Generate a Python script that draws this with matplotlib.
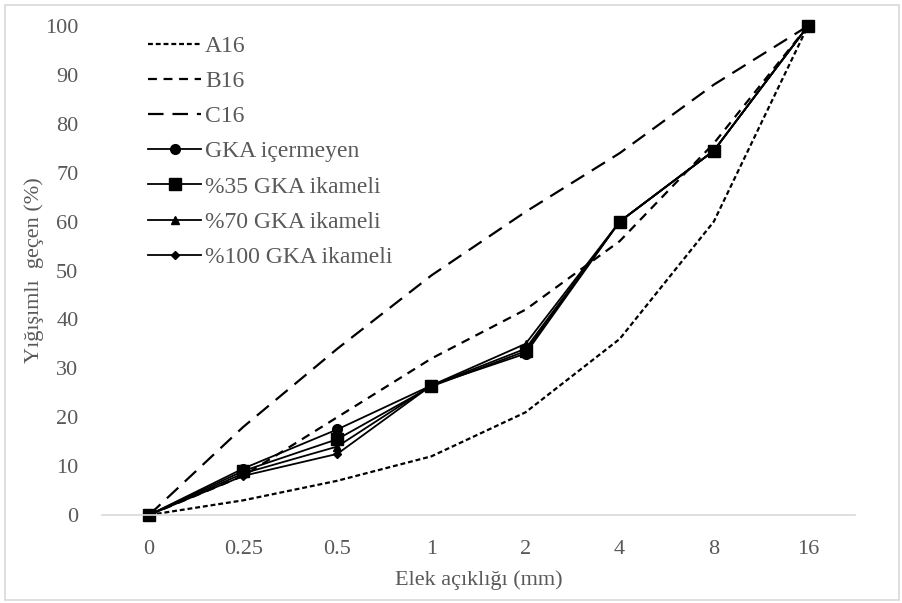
import matplotlib
matplotlib.use('Agg')
import matplotlib.pyplot as plt
from matplotlib.patches import Rectangle

plt.rcParams['font.family'] = ['Liberation Serif', 'DejaVu Serif']

# elek boyutlari (kategori ekseni)
sieves = ['0', '0.25', '0.5', '1', '2', '4', '8', '16']

# referans egriler
a16 = [0, 3, 7, 12, 21, 36, 60, 100]
b16 = [0, 8, 20, 32, 42, 56, 76, 100]
c16 = [0, 18, 34, 49, 62, 74, 88, 100]

# karisimlar
gka_0 = [0, 9.5, 17.5, 26.5, 33.0, 60, 74.5, 100]
gka_35 = [0, 9.0, 15.5, 26.3, 33.5, 60, 74.5, 100]
gka_70 = [0, 8.5, 14.0, 26.5, 35.0, 60, 74.5, 100]
gka_100 = [0, 8.0, 12.5, 26.5, 34.0, 60, 74.5, 100]

x = list(range(len(sieves)))
gray = '#595959'

fig = plt.figure(figsize=(9.02, 6.03), dpi=100)
ax = fig.add_axes([102 / 902, (603 - 515) / 603, (855 - 102) / 902, (515 - 26) / 603])

ax.plot(x, a16, color='black', lw=1.6, dashes=(2.2, 1.3), label='A16')
ax.plot(x, b16, color='black', lw=1.6, dashes=(4, 3), label='B16')
ax.plot(x, c16, color='black', lw=1.6, dashes=(7, 4), label='C16')
ax.plot(x, gka_0, color='black', lw=1.3, marker='o', ms=7, label='GKA içermeyen', clip_on=False)
ax.plot(x, gka_35, color='black', lw=1.3, marker='s', ms=8, label='%35 GKA ikameli', clip_on=False)
ax.plot(x, gka_70, color='black', lw=1.3, marker='^', ms=6, label='%70 GKA ikameli', clip_on=False)
ax.plot(x, gka_100, color='black', lw=1.3, marker='D', ms=4.5, label='%100 GKA ikameli', clip_on=False)

ax.set_xlim(-0.5, len(sieves) - 0.5)
ax.set_ylim(0, 100)
ax.set_xticks(x)
ax.set_xticklabels(sieves)
ax.set_yticks(range(0, 101, 10))
ax.tick_params(length=0, labelsize=16, colors=gray)
ax.tick_params(axis='x', pad=18)
ax.tick_params(axis='y', pad=17)
for s in ['top', 'right', 'left']:
    ax.spines[s].set_visible(False)
ax.spines['bottom'].set_color('#d9d9d9')
ax.spines['bottom'].set_linewidth(1.2)

ax.set_xlabel('Elek açıklığı (mm)', fontsize=16, color=gray, labelpad=8)
ax.set_ylabel('Yığışımlı  geçen (%)', fontsize=16, color=gray, labelpad=1)

leg = ax.legend(loc='upper left', bbox_to_anchor=(127 / 902, 1 - 14 / 603), bbox_transform=fig.transFigure,
                frameon=False, fontsize=17, handlelength=2.25, handletextpad=0.15, labelspacing=0.58)
for t in leg.get_texts():
    t.set_color(gray)

fig.patches.append(Rectangle((5 / 902, 3 / 603), 894 / 902, 595 / 603, transform=fig.transFigure,
                             fill=False, edgecolor='#d9d9d9', lw=1.2))

fig.savefig('out.png', dpi=100)
